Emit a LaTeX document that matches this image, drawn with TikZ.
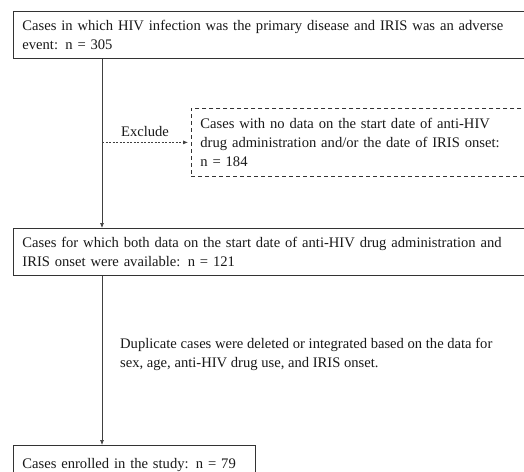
\documentclass[tikz,border=0pt]{standalone}
\usepackage{fontspec}
\setmainfont{Liberation Serif}
\usetikzlibrary{arrows.meta}
\begin{document}
\begin{tikzpicture}[x=1pt,y=-1pt,
  every node/.style={font=\fontsize{14.6}{19}\selectfont, text=black!90},
  box/.style={draw=black!80, line width=0.8pt, anchor=north west, align=left,
    inner xsep=9pt, inner ysep=0pt, text width=520pt},
  dbox/.style={box, dashed, dash pattern=on 4pt off 3pt},
  arr/.style={draw=black!75, line width=0.7pt, -{Latex[length=5pt,width=4pt]}}
]
\useasboundingbox (0,0) rectangle (524,471);
\clip (0,0) rectangle (524,471);
\fill[white] (0,0) rectangle (524,471);
\node[box, minimum height=47pt] (b1) at (13,11)
  {Cases in which HIV infection was the primary disease and IRIS was an adverse\\event: n = 305};
\node[dbox, minimum height=68pt, text width=400pt] (ex) at (191,108)
  {Cases with no data on the start date of anti-HIV\\drug administration and/or the date of IRIS onset:\\n = 184};
\node[box, minimum height=47pt] (b2) at (13,228)
  {Cases for which both data on the start date of anti-HIV drug administration and\\IRIS onset were available: n = 121};
\node[box, minimum height=40pt, text width=224pt, inner ysep=3pt] (b3) at (13,445)
  {Cases enrolled in the study: n = 79\\[30pt]};
\coordinate (sp) at (102,0);
\node[anchor=south] (exl) at (145,140) {Exclude};
\node[anchor=north west, align=left, inner sep=0pt] (dup) at (120,338)
  {Duplicate cases were deleted or integrated based on the data for\\sex, age, anti-HIV drug use, and IRIS onset.};
\draw[arr] (sp |- b1.south) -- (sp |- b2.north);
\draw[arr, dashed, dash pattern=on 2pt off 1.5pt] (sp |- ex.west) -- ([xshift=-3pt]ex.west);
\draw[arr] (sp |- b2.south) -- (sp |- b3.north);
\end{tikzpicture}
\end{document}
